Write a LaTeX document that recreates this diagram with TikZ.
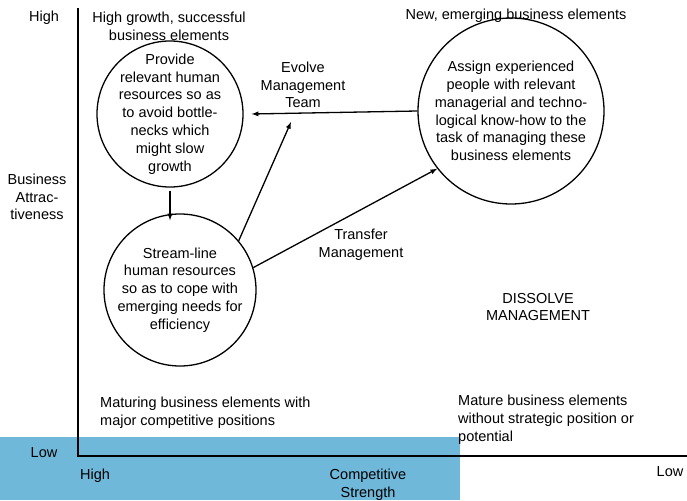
\documentclass[tikz,border=0pt]{standalone}
\usepackage{fontspec}
\setmainfont{Liberation Sans}
\usepackage{xcolor}
\usetikzlibrary{positioning}
\definecolor{stripblue}{RGB}{111,184,218}

\begin{document}
\begin{tikzpicture}[x=1pt, y=-1pt,
  every node/.style={inner sep=1pt, align=center, font=\fontsize{14.5}{17.8}\selectfont},
  action/.style={circle, draw, line width=1.3pt, inner sep=-30pt},
  flow/.style={->, >=latex, line width=1.3pt}]
  \useasboundingbox (0,0) rectangle (687,500);
  % Blue strip along the bottom
  \fill[stripblue] (0,437) rectangle (460,500);
  % Axes
  \draw[line width=1.5pt] (78,8) -- (78,456) -- (687,456);
  \node (yhigh) at (44,18) {High};
  \node (ylab) at (37,197) {Business\\Attrac-\\tiveness};
  \node (ylow) at (44,453) {Low};
  \node (xhigh) at (95,476) {High};
  \node (xlab) at (368,485) {Competitive\\Strength};
  \node (xlow) at (670,472) {Low};
  % Quadrant captions
  \node (qtl) at (169,26) {High growth, successful\\business elements};
  \node (qtr) at (516,16) {New, emerging business elements};
  \node[align=left, anchor=west] (qbl) at (99,413) {Maturing business elements with\\major competitive positions};
  \node[align=left, anchor=west] (qbr) at (457,420) {Mature business elements\\without strategic position or\\potential};
  \node (dissolve) at (538,307) {DISSOLVE\\MANAGEMENT};
  % The three circles
  \node[action, minimum size=146] (provide) at (170,114)
    {Provide\\relevant human\\resources so as\\to avoid bottle-\\necks which\\might slow\\growth};
  \node[action, minimum size=152] (stream) at (180,290)
    {Stream-line\\human resources\\so as to cope with\\emerging needs for\\efficiency};
  \node[action, minimum size=186] (assign) at (511,111)
    {Assign experienced\\people with relevant\\managerial and techno-\\logical know-how to the\\task of managing these\\business elements};
  % Arrows between them
  \draw[flow] (assign.west) -- ([xshift=8pt]provide.east);
  \draw[flow] ([yshift=-3pt]provide.south) -- ([yshift=-7pt]provide.south |- stream.north);
  \coordinate (evolve) at (291,122);
  \draw[flow] (stream.40) -- (evolve);
  \node (evolvelab) at (303,85) {Evolve\\Management\\Team};
  \draw[flow] (stream.17) -- (assign.218);
  \node (transferlab) at (361,245) {Transfer\\Management};
\end{tikzpicture}
\end{document}
